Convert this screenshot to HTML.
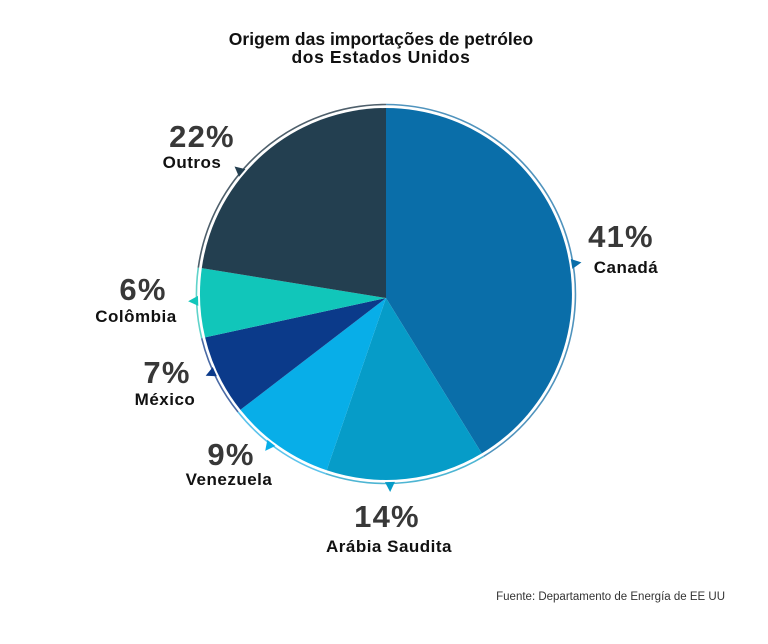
<!DOCTYPE html>
<html>
<head>
<meta charset="utf-8">
<style>
  html,body{margin:0;padding:0;background:#fff;}
  body{width:768px;height:644px;overflow:hidden;}
  svg{display:block;}
  .pct{font-family:"Liberation Sans",Arial,sans-serif;font-weight:bold;font-size:31px;fill:#383838;letter-spacing:1.2px;}
  .lbl{font-family:"Liberation Sans",Arial,sans-serif;font-weight:bold;font-size:17px;fill:#111;letter-spacing:0.5px;}
  .ttl{font-family:"Liberation Sans",Arial,sans-serif;font-weight:bold;font-size:17.5px;fill:#111;}
  .src{font-family:"Liberation Sans",Arial,sans-serif;font-size:11.5px;fill:#333;}
</style>
</head>
<body>
<svg width="768" height="644" viewBox="0 0 768 644" xmlns="http://www.w3.org/2000/svg">
  <text class="ttl" x="381" y="45" text-anchor="middle">Origem das importações de petróleo</text>
  <text class="ttl" x="381" y="63" text-anchor="middle" style="letter-spacing:0.6px">dos Estados Unidos</text>

  <!-- slices -->
  <path d="M386,298 L386,108 A186,186 0 0 1 481.8,453.4 Z" fill="#0a6ea9"/>
  <path d="M386,298 L481.8,453.4 A186,186 0 0 1 326.7,470.3 Z" fill="#069cc8"/>
  <path d="M386,298 L326.7,470.3 A186,186 0 0 1 240.4,409.8 Z" fill="#08aee8"/>
  <path d="M386,298 L240.4,409.8 A186,186 0 0 1 205.1,337.4 Z" fill="#0b3a8a"/>
  <path d="M386,298 L205.1,337.4 A186,186 0 0 1 201.8,268.1 Z" fill="#11c6ba"/>
  <path d="M386,298 L201.8,268.1 A186,186 0 0 1 386,108 Z" fill="#233f50"/>

  <!-- outer ring -->
  <g fill="none" stroke-width="1.6">
    <path d="M386,104.5 A189.5,189.5 0 0 1 483.6,456.4" stroke="#4f93bd"/>
    <path d="M483.6,456.4 A189.5,189.5 0 0 1 325.6,473.6" stroke="#4db5d3"/>
    <path d="M325.6,473.6 A189.5,189.5 0 0 1 238.0,412.0" stroke="#5cc3ec"/>
    <path d="M238.0,412.0 A189.5,189.5 0 0 1 201.7,338.2" stroke="#4a6aa5"/>
    <path d="M201.7,338.2 A189.5,189.5 0 0 1 198.3,267.6" stroke="#5fd3ca"/>
    <path d="M198.3,267.6 A189.5,189.5 0 0 1 386,104.5" stroke="#4e5f6b"/>
  </g>

  <!-- pointers -->
  <g>
    <polygon points="574,289 574,299 584,294" fill="#0a6ea9" transform="rotate(-9.2 386 294)"/>
    <polygon points="574,289 574,299 584,294" fill="#069cc8" transform="rotate(88.8 386 294)"/>
    <polygon points="574,289 574,299 584,294" fill="#08aee8" transform="rotate(127.6 386 294)"/>
    <polygon points="574,289 574,299 584,294" fill="#0b3a8a" transform="rotate(155.6 386 294)"/>
    <polygon points="574,289 574,299 584,294" fill="#11c6ba" transform="rotate(177.9 386 294)"/>
    <polygon points="574,289 574,299 584,294" fill="#233f50" transform="rotate(-139.9 386 294)"/>
  </g>

  <!-- labels -->
  <text class="pct" x="202" y="147" text-anchor="middle">22%</text>
  <text class="lbl" x="192" y="168" text-anchor="middle">Outros</text>

  <text class="pct" x="621" y="247" text-anchor="middle">41%</text>
  <text class="lbl" x="626" y="273" text-anchor="middle">Canadá</text>

  <text class="pct" x="143" y="300" text-anchor="middle">6%</text>
  <text class="lbl" x="136" y="322" text-anchor="middle">Colômbia</text>

  <text class="pct" x="167" y="383" text-anchor="middle">7%</text>
  <text class="lbl" x="165" y="405" text-anchor="middle">México</text>

  <text class="pct" x="231" y="465" text-anchor="middle">9%</text>
  <text class="lbl" x="229" y="485" text-anchor="middle">Venezuela</text>

  <text class="pct" x="387" y="527" text-anchor="middle">14%</text>
  <text class="lbl" x="389" y="552" text-anchor="middle">Arábia Saudita</text>

  <text class="src" x="725" y="600" text-anchor="end">Fuente: Departamento de Energía de EE UU</text>
</svg>
</body>
</html>
